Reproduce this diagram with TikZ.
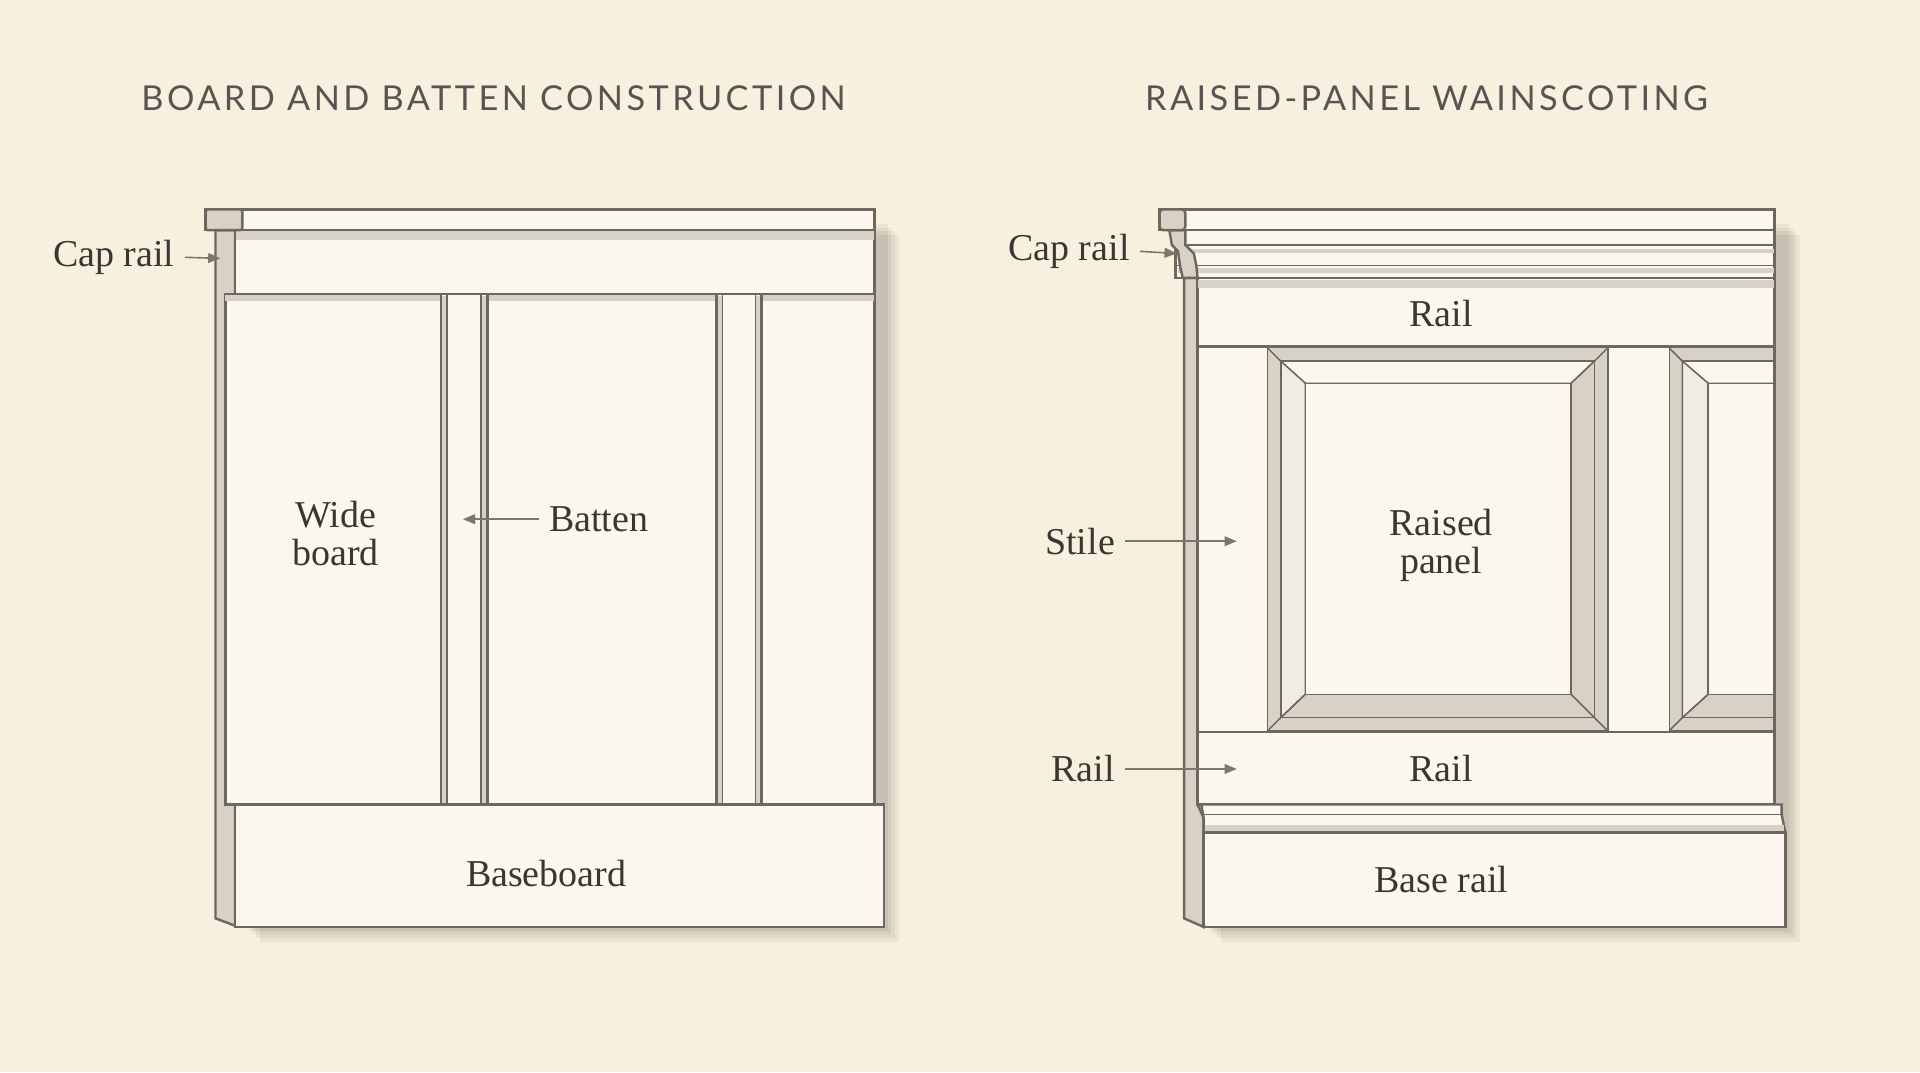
\documentclass[tikz,border=0pt]{standalone}
\usepackage{fontspec}
\setmainfont{Liberation Serif}
\newfontfamily\titlefont[LetterSpace=10]{Lato}
\usetikzlibrary{arrows.meta}
\definecolor{bg}{HTML}{F8F0DF}
\definecolor{wood}{HTML}{FBF7EE}
\definecolor{ln}{HTML}{6E675F}
\definecolor{face}{HTML}{D8D1C5}
\definecolor{txt}{HTML}{3A3632}
\begin{document}
\begin{tikzpicture}[x=1pt,y=-1pt,
  part/.style={draw=ln,line width=2pt,fill=wood},
  side/.style={draw=ln,line width=2pt,fill=face},
  thin/.style={draw=ln,line width=1.2pt},
  lab/.style={font=\fontsize{31}{33}\selectfont,text=txt,align=center},
  ttl/.style={font=\titlefont\fontsize{28}{30}\selectfont,text=txt!85},
  arr/.style={draw=ln!90,line width=1.3pt,shorten <=5pt,-{Triangle[length=10pt,width=8pt]}},
  shd/.style={fill=black,opacity=0.05}]
\fill[bg] (0,0) rectangle (1568,875.5);
\useasboundingbox (0,0) rectangle (1568,875.5);
% titles
\node[ttl] (t1) at (403,80) {BOARD AND BATTEN CONSTRUCTION};
\node[ttl] (t2) at (1165,80) {RAISED-PANEL WAINSCOTING};
% ===== LEFT =====
\foreach \d in {3,6,9,12}{\fill[shd] (200+\d,180+\d) rectangle (722+\d,757+\d);}
\path[side] (176,188) -- (192,188) -- (192,756) -- (176,750) -- cycle;
\path[part] (192,188) rectangle (714,240);
\fill[face] (192,188) rectangle (714,196);
\draw[ln,line width=2pt] (192,188) -- (192,240);
\path[part] (184,240) rectangle (714,657);
\fill[face] (184,240) rectangle (714,246);
\draw[ln,line width=2pt] (184,240) -- (714,240);
\foreach \a/\b in {360/398,585/622}{
  \path[part] (\a,240) rectangle (\b,657);
  \fill[face] (\a+1,242) rectangle (\a+5,656);
  \fill[face] (\b-5,242) rectangle (\b-1,656);
  \draw[thin] (\a+5,240) -- (\a+5,657) (\b-5,240) -- (\b-5,657);
}
\path[part] (192,657) rectangle (722,757);
\path[part] (168,171) rectangle (714,188);
\path[side,rounded corners=2pt] (168,171) rectangle (198,188);
\node[lab] (wb) at (274,436) {Wide\\[-2pt]board};
\node[lab] (bt) at (489,424) {Batten};
\coordinate (btx) at (378,424);
\draw[arr] (bt.west) -- (btx);
\node[lab,anchor=east] (cr1) at (146,210) {Cap rail};
\coordinate (cr1x) at (180,211);
\draw[arr] (cr1.east) -- (cr1x);
\node[lab] (bb) at (446,713) {Baseboard};
% ===== RIGHT =====
\foreach \d in {3,6,9,12}{\fill[shd] (985+\d,180+\d) rectangle (1458+\d,757+\d);}
\path[side] (967,227) -- (978,227) -- (978,657) -- (983,668) -- (983,757) -- (967,750) -- cycle;
\path[part] (978,227) rectangle (1449,283);
\fill[face] (978,229) rectangle (1449,235);
\draw[ln,line width=2pt] (978,227) -- (1449,227);
\path[part] (978,283) rectangle (1449,598);
% panel 1
\path[fill=face,thin] (1035,284) rectangle (1313,597);
\path[fill=wood,thin] (1046,295) -- (1302,295) -- (1283,313) -- (1066,313) -- cycle;
\path[fill=wood!70!face,thin] (1046,295) -- (1066,313) -- (1066,567) -- (1046,586) -- cycle;
\path[fill=wood,thin] (1066,313) rectangle (1283,567);
\draw[thin] (1035,284) -- (1046,295) (1313,284) -- (1302,295) (1035,597) -- (1046,586) (1313,597) -- (1302,586);
\draw[thin] (1046,295) rectangle (1302,586);
\draw[thin] (1302,295) -- (1283,313) (1046,586) -- (1066,567) (1302,586) -- (1283,567);
% panel 2
\begin{scope}
\clip (1363,280) rectangle (1449,600);
\path[fill=face,thin] (1363,284) rectangle (1600,597);
\path[fill=wood,thin] (1374,295) -- (1600,295) -- (1600,313) -- (1395,313) -- cycle;
\path[fill=wood!70!face,thin] (1374,295) -- (1395,313) -- (1395,567) -- (1374,586) -- cycle;
\path[fill=wood,thin] (1395,313) rectangle (1600,567);
\draw[thin] (1363,284) -- (1374,295) (1363,597) -- (1374,586) (1374,586) -- (1395,567);
\draw[thin] (1374,295) rectangle (1600,586);
\end{scope}
\draw[ln,line width=2pt] (978,283) rectangle (1449,598);
\path[part] (978,598) rectangle (1449,657);
% base molding
\path[part] (981,657) -- (1455,657) -- (1455,665) -- (1458,680) -- (983,680) -- (983,668) -- cycle;
\draw[thin] (982,665) -- (1455,665);
\fill[face] (984,674) rectangle (1457,679);
\path[part] (983,680) rectangle (1458,757);
% cap molding
\path[part] (960,188) rectangle (1449,227);
\fill[face] (962,203) rectangle (1449,207);
\fill[face] (962,219) rectangle (1449,223);
\draw[thin] (960,200) -- (1449,200) (960,217) -- (1449,217);
\path[side] (955,188) -- (968,188) -- (968,200) -- (975,207) -- (977,217) -- (978,227) -- (966,227) -- (964,219) -- (962,205) -- (957,200) -- cycle;
\path[part] (947,171) rectangle (1449,188);
\path[side,rounded corners=3pt] (947,171) rectangle (968,188);
\node[lab] (r1) at (1177,256) {Rail};
\node[lab] (rp) at (1177,445) {Raised\\[-2pt]panel};
\node[lab] (r2) at (1177,628) {Rail};
\node[lab] (br) at (1177,718) {Base rail};
\node[lab,anchor=east] (cr2) at (926,205) {Cap rail};
\coordinate (cr2x) at (961,207);
\draw[arr] (cr2.east) -- (cr2x);
\node[lab,anchor=east] (st) at (914,442) {Stile};
\coordinate (stx) at (1010,442);
\draw[arr] (st.east) -- (stx);
\node[lab,anchor=east] (rl) at (914,628) {Rail};
\coordinate (rlx) at (1010,628);
\draw[arr] (rl.east) -- (rlx);
\end{tikzpicture}
\end{document}
